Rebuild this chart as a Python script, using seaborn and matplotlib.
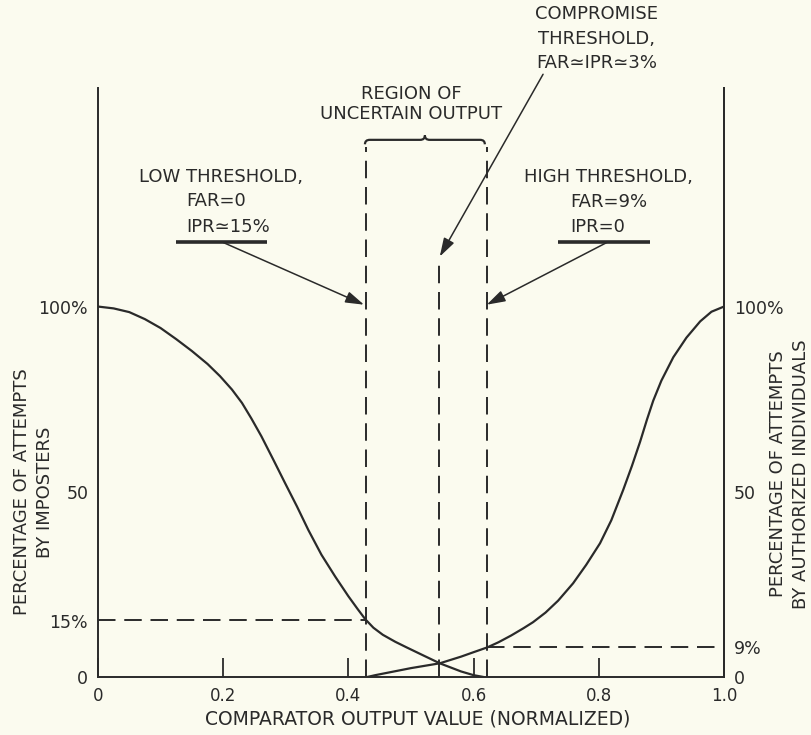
import matplotlib
matplotlib.use("Agg")
import matplotlib.pyplot as plt
from matplotlib.path import Path
from matplotlib.patches import PathPatch
import pandas as pd
import seaborn as sns

# curves (x = normalized comparator output, y = percent)
imposter_x = [0.0, 0.025, 0.05, 0.075, 0.10, 0.125, 0.15, 0.175, 0.195, 0.214,
              0.23, 0.245, 0.261, 0.28, 0.299, 0.318, 0.336, 0.357, 0.379, 0.40,
              0.415, 0.427, 0.44, 0.455, 0.475, 0.493, 0.52, 0.546, 0.58, 0.60,
              0.616]
imposter_y = [100, 99.5, 98.5, 96.6, 94.2, 91.2, 88.0, 84.5, 81.2, 77.6,
              74.0, 69.8, 65.0, 58.7, 52.3, 46.0, 39.7, 33.0, 27.1, 21.8,
              18.3, 15.6, 13.3, 11.4, 9.5, 8.0, 5.8, 3.7, 1.5, 0.5,
              0]

authorized_x = [0.43, 0.443, 0.47, 0.50, 0.546, 0.58, 0.60, 0.622, 0.64, 0.66,
                0.68, 0.695, 0.715, 0.735, 0.759, 0.78, 0.802, 0.82, 0.839, 0.853,
                0.866, 0.877, 0.887, 0.90, 0.919, 0.94, 0.962, 0.98, 1.0]
authorized_y = [0, 0.5, 1.4, 2.4, 3.7, 5.5, 6.7, 8.0, 9.4, 11.2,
                13.2, 14.8, 17.4, 20.6, 25.3, 30.3, 36.1, 42.3, 50.5, 57.0,
                63.5, 69.5, 74.6, 80.0, 86.3, 91.6, 96.0, 98.6, 100]

# thresholds on the comparator output
low_thr, mid_thr, high_thr = 0.428, 0.545, 0.622
ipr_at_low = 15.4
far_at_high = 8.0

x_ticks = [0, 0.2, 0.4, 0.6, 0.8, 1.0]
x_ticklabels = ["0", "0.2", "0.4", "0.6", "0.8", "1.0"]
left_ticks = [0, 15, 50, 100]
left_ticklabels = ["0", "15%", "50", "100%"]
right_ticks = [0, far_at_high, 50, 100]
right_ticklabels = ["0", "9%", "50", "100%"]

INK = "#2a2a2a"
BG = "#fbfbef"
DASH = (0, (9, 4.5))

sns.set_style("ticks")
plt.rcParams["font.family"] = ["DejaVu Sans"]
plt.rcParams["font.size"] = 12.5
plt.rcParams["text.color"] = INK
plt.rcParams["axes.edgecolor"] = INK
plt.rcParams["xtick.color"] = INK
plt.rcParams["ytick.color"] = INK


def draw_brace(ax, x0, x1, y, h=1.2, color=INK):
    """Flat curly brace opening downward."""
    xm = (x0 + x1) / 2
    d = (x1 - x0) * 0.04
    verts = [(x0, y - h), (x0, y), (x0 + d, y), (xm - d, y), (xm, y),
             (xm, y + h), (xm, y), (xm + d, y), (x1 - d, y), (x1, y), (x1, y - h)]
    codes = [Path.MOVETO, Path.CURVE3, Path.CURVE3, Path.LINETO, Path.CURVE3,
             Path.CURVE3, Path.CURVE3, Path.CURVE3, Path.LINETO, Path.CURVE3,
             Path.CURVE3]
    ax.add_patch(PathPatch(Path(verts, codes), fill=False, lw=1.6,
                           edgecolor=color, clip_on=False))


fig = plt.figure(figsize=(8.11, 7.35), dpi=100, facecolor=BG)
ax = fig.add_axes([0.1208, 0.0789, 0.7719, 0.8014])
ax.set_facecolor(BG)

df_imp = pd.DataFrame({"x": imposter_x, "y": imposter_y})
df_auth = pd.DataFrame({"x": authorized_x, "y": authorized_y})
sns.lineplot(data=df_imp, x="x", y="y", ax=ax, color=INK, lw=1.6, estimator=None)
sns.lineplot(data=df_auth, x="x", y="y", ax=ax, color=INK, lw=1.6, estimator=None)

ax.set_xlim(0, 1)
ax.set_ylim(0, 159)

# threshold lines
top = 143
ax.plot([low_thr, low_thr], [0, top], color=INK, lw=1.4, ls=DASH, clip_on=False)
ax.plot([high_thr, high_thr], [0, top], color=INK, lw=1.4, ls=DASH, clip_on=False)
ax.plot([mid_thr, mid_thr], [0, 113], color=INK, lw=1.4, ls=DASH)
ax.plot([0, low_thr], [ipr_at_low, ipr_at_low], color=INK, lw=1.4, ls=DASH)
ax.plot([high_thr, 1], [far_at_high, far_at_high], color=INK, lw=1.4, ls=DASH)

draw_brace(ax, 0.4265, 0.618, 145)

# axes styling
ax.spines["top"].set_visible(False)
for s in ["left", "bottom", "right"]:
    ax.spines[s].set_linewidth(1.4)
ax.set_xticks(x_ticks)
ax.set_xticklabels(x_ticklabels)
ax.tick_params(axis="x", direction="in", length=14, width=1.3, pad=7,
               labelsize=12)
ax.set_yticks(left_ticks)
ax.set_yticklabels(left_ticklabels)
ax.tick_params(axis="y", length=0, pad=7)
ax.set_yticks([50], minor=True)
ax.tick_params(axis="y", which="minor", direction="in", length=16, width=1.3)
ax.set_xlabel("")
ax.set_ylabel("")

ax2 = ax.twinx()
ax2.set_ylim(0, 159)
ax2.spines["top"].set_visible(False)
ax2.spines["left"].set_visible(False)
ax2.spines["bottom"].set_visible(False)
ax2.spines["right"].set_linewidth(1.4)
ax2.set_yticks(right_ticks)
ax2.set_yticklabels(right_ticklabels)
ax2.tick_params(axis="y", length=0, pad=7)
ax2.set_yticks([50], minor=True)
ax2.tick_params(axis="y", which="minor", direction="in", length=16, width=1.3)

# axis titles
fig.text(0.5148, 0.0218, "COMPARATOR OUTPUT VALUE (NORMALIZED)", ha="center",
         va="center", fontsize=13.5)
fig.text(0.0413, 0.3306, "PERCENTAGE OF ATTEMPTS\nBY IMPOSTERS", rotation=90,
         ha="center", va="center", fontsize=13, linespacing=1.35)
fig.text(0.9735, 0.355, "PERCENTAGE OF ATTEMPTS\nBY AUTHORIZED INDIVIDUALS",
         rotation=90, ha="center", va="center", fontsize=13, linespacing=1.35)

# annotations
kw = dict(fontsize=13, va="center", clip_on=False)
ax.text(0.196, 135.1, "LOW THRESHOLD,", ha="center", **kw)
ax.text(0.1406, 128.4, "FAR=0", ha="left", **kw)
ax.text(0.1406, 121.6, "IPR\u224315%", ha="left", **kw)
ax.plot([0.125, 0.270], [117.3, 117.3], color=INK, lw=2.6, clip_on=False,
        solid_capstyle="butt")

ax.text(0.8155, 135.1, "HIGH THRESHOLD,", ha="center", **kw)
ax.text(0.754, 128.1, "FAR=9%", ha="left", **kw)
ax.text(0.754, 121.6, "IPR=0", ha="left", **kw)
ax.plot([0.735, 0.882], [117.3, 117.3], color=INK, lw=2.6, clip_on=False,
        solid_capstyle="butt")

ax.text(0.5, 157.3, "REGION OF", ha="center", **kw)
ax.text(0.5, 151.9, "UNCERTAIN OUTPUT", ha="center", **kw)

ax.text(0.797, 178.9, "COMPROMISE", ha="center", **kw)
ax.text(0.797, 172.2, "THRESHOLD,", ha="center", **kw)
ax.text(0.797, 165.7, "FAR\u2243IPR\u22433%", ha="center", **kw)

arrow = dict(arrowstyle="-|>,head_length=0.9,head_width=0.28", color=INK, lw=1.1,
             shrinkA=0, shrinkB=0)
ax.annotate("", xy=(0.425, 100.5), xytext=(0.2, 117.3), arrowprops=arrow,
            annotation_clip=False)
ax.annotate("", xy=(0.621, 100.5), xytext=(0.813, 117.3), arrowprops=arrow,
            annotation_clip=False)
ax.annotate("", xy=(0.546, 113.5), xytext=(0.711, 162.7), arrowprops=arrow,
            annotation_clip=False)

fig.savefig("out.png", dpi=100, facecolor=BG)
